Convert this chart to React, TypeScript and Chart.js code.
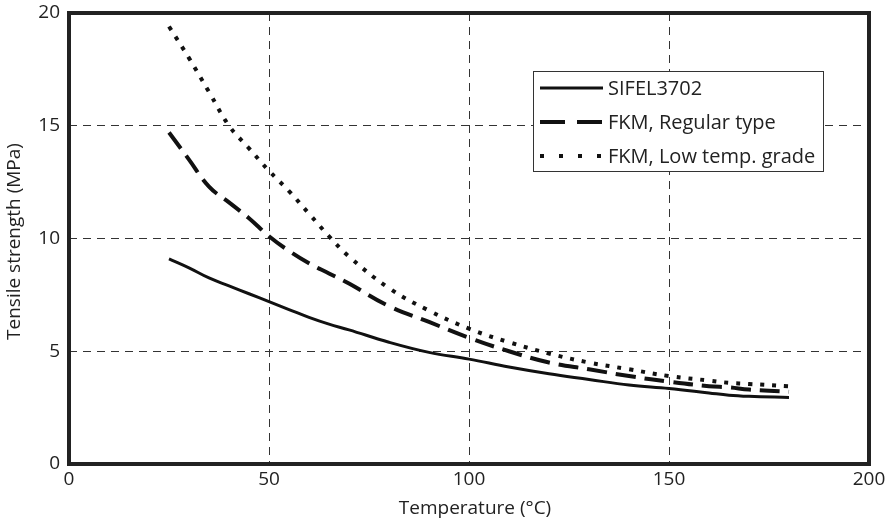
import React, { useEffect, useRef } from "react";
import { Chart, registerables } from "chart.js";

Chart.register(...registerables);

const temps = [25, 30, 35, 40, 45, 50, 55, 60, 65, 70, 80, 90, 100, 110, 120, 130, 140, 150, 160, 165, 170, 180];
const sifel = [9.1, 8.7, 8.25, 7.9, 7.55, 7.2, 6.85, 6.5, 6.2, 5.95, 5.4, 4.95, 4.65, 4.3, 4.0, 3.75, 3.5, 3.35, 3.15, 3.05, 3.0, 2.95];
const fkmRegular = [14.7, 13.5, 12.3, 11.6, 10.9, 10.1, 9.45, 8.9, 8.45, 8.0, 7.0, 6.3, 5.6, 5.0, 4.5, 4.2, 3.9, 3.65, 3.45, 3.4, 3.3, 3.2];
const fkmLow = [19.4, 18.0, 16.5, 15.0, 14.0, 13.0, 12.1, 11.1, 10.1, 9.2, 7.8, 6.8, 6.0, 5.4, 4.9, 4.5, 4.2, 3.9, 3.7, 3.6, 3.55, 3.45];
const seriesNames = ["SIFEL3702", "FKM, Regular type", "FKM, Low temp. grade"];
const xTicks = [0, 50, 100, 150, 200];
const yTicks = [0, 5, 10, 15, 20];
const xTitle = "Temperature (°C)";
const yTitle = "Tensile strength (MPa)";

const FONT = "'Open Sans', Lato, sans-serif";
const INK = "#222";

const styles = [
  { width: 3, dash: [] as number[] },
  { width: 4, dash: [20, 9] },
  { width: 4, dash: [4, 8] },
];

const legendPlugin = {
  id: "boxLegend",
  afterDatasetsDraw(chart: any) {
    const { ctx, scales } = chart;
    const x0 = Math.round(scales.x.getPixelForValue(116));
    const y0 = Math.round(scales.y.getPixelForValue(17.45));
    const w = 290;
    const h = 100;
    ctx.save();
    ctx.fillStyle = "#fff";
    ctx.fillRect(x0, y0, w, h);
    ctx.strokeStyle = "#333";
    ctx.lineWidth = 1;
    ctx.strokeRect(x0 + 0.5, y0 + 0.5, w, h);
    ctx.font = `20px ${FONT}`;
    ctx.textBaseline = "middle";
    seriesNames.forEach((name, i) => {
      const yy = y0 + 17 + i * 34;
      ctx.beginPath();
      ctx.strokeStyle = "#111";
      ctx.lineWidth = styles[i].width;
      ctx.setLineDash(i === 1 ? [25, 12] : i === 2 ? [4, 15] : []);
      ctx.moveTo(x0 + 7, yy);
      ctx.lineTo(x0 + 70, yy);
      ctx.stroke();
      ctx.setLineDash([]);
      ctx.fillStyle = INK;
      ctx.fillText(name, x0 + 75, yy + 1);
    });
    ctx.restore();
  },
};

const framePlugin = {
  id: "frame",
  afterDraw(chart: any) {
    const { ctx, chartArea: a } = chart;
    ctx.save();
    ctx.strokeStyle = INK;
    ctx.lineWidth = 4;
    ctx.strokeRect(a.left, a.top, a.right - a.left, a.bottom - a.top);
    ctx.fillStyle = INK;
    ctx.font = `19px ${FONT}`;
    ctx.textAlign = "center";
    ctx.textBaseline = "middle";
    ctx.fillText(xTitle, (a.left + a.right) / 2 + 6, 509);
    ctx.translate(15, (a.top + a.bottom) / 2 + 3);
    ctx.rotate(-Math.PI / 2);
    ctx.fillText(yTitle, 0, 0);
    ctx.restore();
  },
};

export default function App() {
  const ref = useRef<HTMLCanvasElement>(null);
  useEffect(() => {
    document.body.style.margin = "0";
    const data = [sifel, fkmRegular, fkmLow];
    const chart = new Chart(ref.current!, {
      type: "line",
      data: {
        datasets: data.map((vals, i) => ({
          label: seriesNames[i],
          data: temps.map((t, j) => ({ x: t, y: vals[j] })),
          borderColor: "#111",
          borderWidth: styles[i].width,
          borderDash: styles[i].dash,
          pointRadius: 0,
          tension: 0.4,
          fill: false,
        })),
      },
      options: {
        animation: false,
        responsive: false,
        layout: { padding: { top: 13, right: 24, left: 0, bottom: 0 } },
        plugins: { legend: { display: false }, tooltip: { enabled: false } },
        scales: {
          x: {
            type: "linear",
            min: 0,
            max: 200,
            afterBuildTicks: (s: any) => { s.ticks = xTicks.map((v) => ({ value: v })); },
            afterFit: (s: any) => { s.height = 58; s.paddingLeft = 0; s.paddingRight = 0; },
            grid: { color: "#333", lineWidth: 1, drawTicks: false },
            border: { display: false, dash: [8, 6] },
            ticks: { color: INK, font: { family: FONT, size: 19 }, padding: 4, maxRotation: 0 },
          },
          y: {
            type: "linear",
            min: 0,
            max: 20,
            afterBuildTicks: (s: any) => { s.ticks = yTicks.map((v) => ({ value: v })); },
            afterFit: (s: any) => { s.width = 69; s.paddingTop = 0; s.paddingBottom = 0; },
            grid: { color: "#333", lineWidth: 1, drawTicks: false },
            border: { display: false, dash: [8, 6] },
            ticks: { color: INK, font: { family: FONT, size: 19 }, padding: 9 },
          },
        },
      },
      plugins: [legendPlugin, framePlugin],
    });
    return () => chart.destroy();
  }, []);
  return <canvas ref={ref} width={893} height={522} style={{ display: "block" }} />;
}
